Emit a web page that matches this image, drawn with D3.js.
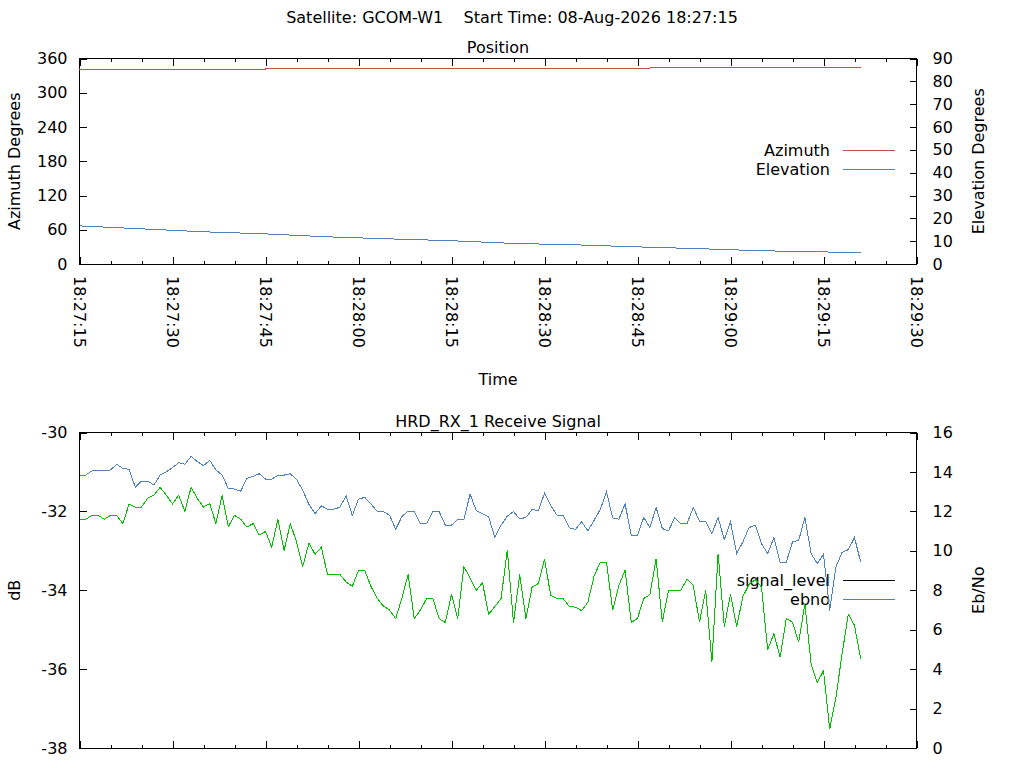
<!DOCTYPE html>
<html>
<head>
<meta charset="utf-8">
<script src="https://cdn.jsdelivr.net/npm/d3@7"></script>
<style>
  body { margin: 0; background: #fff; }
  svg { font-family: "DejaVu Sans", sans-serif; font-size: 16px; }
  .plotline { fill: none; stroke-width: 1; shape-rendering: crispEdges; }
</style>
</head>
<body>
<div id="chart"></div>
<script>
// pass start, every sample is one second after the previous one
var startTime = "2026-08-08T18:27:15Z";
var endTime = "2026-08-08T18:29:30Z";

// position samples (seconds after start)
var posSeconds = [0, 10, 20, 30, 40, 50, 60, 70, 80, 90, 100, 110, 120, 126];
var azimuth = [340.8, 341.1, 341.35, 341.6, 341.9, 342.2, 342.45, 342.7, 343.0, 343.3, 343.55, 343.8, 344.1, 344.25];
var elevation = [16.7, 15.4, 14.1, 13.2, 11.9, 11.0, 10.2, 9.0, 8.4, 7.5, 6.7, 5.8, 5.3, 4.9];

// receive signal, one value per second
var signalLevel = [
  -32.20, -32.20, -32.10, -32.10, -32.20, -32.10, -32.10, -32.31, -31.81, -31.89,
  -31.89, -31.67, -31.59, -31.39, -31.59, -31.81, -31.59, -32.00, -31.39, -31.67,
  -31.89, -31.80, -32.31, -31.59, -32.39, -32.10, -32.20, -32.40, -32.31, -32.60,
  -32.51, -32.91, -32.20, -32.99, -32.31, -32.77, -33.40, -32.81, -33.09, -32.91,
  -33.60, -33.60, -33.60, -33.79, -33.90, -33.50, -33.50, -33.90, -34.20, -34.40,
  -34.50, -34.72, -34.20, -33.60, -34.72, -34.50, -34.21, -34.21, -34.72, -34.82,
  -34.10, -34.72, -33.40, -33.69, -34.00, -33.81, -34.61, -34.41, -34.21, -32.98,
  -34.82, -33.60, -34.72, -33.92, -33.83, -33.20, -34.13, -34.21, -34.21, -34.41,
  -34.43, -34.52, -34.30, -33.64, -33.29, -33.29, -34.51, -33.88, -33.49, -34.82,
  -34.71, -34.21, -34.11, -33.20, -34.81, -34.00, -34.00, -34.00, -33.71, -33.88,
  -34.81, -34.00, -35.83, -33.07, -34.92, -34.10, -34.92, -34.16, -33.85, -33.73,
  -33.92, -35.51, -35.10, -35.70, -34.72, -34.81, -35.32, -34.34, -35.87, -36.34,
  -36.04, -37.52, -36.72, -35.61, -34.61, -34.89, -35.74
];
var ebno = [
  13.84, 13.84, 14.05, 14.05, 14.08, 14.10, 14.39, 14.18, 14.13, 13.23,
  13.54, 13.54, 13.33, 13.84, 14.01, 14.22, 14.47, 14.39, 14.79, 14.52,
  14.32, 14.59, 14.10, 13.84, 13.16, 13.13, 13.03, 13.67, 13.78, 13.91,
  13.64, 13.64, 13.82, 13.84, 13.91, 13.62, 13.08, 12.35, 11.89, 12.28,
  12.11, 12.11, 12.21, 12.79, 11.79, 12.62, 12.71, 12.38, 12.01, 11.99,
  11.81, 11.09, 11.74, 12.01, 11.99, 11.38, 11.38, 11.99, 11.99, 11.30,
  11.30, 11.60, 11.60, 12.88, 12.03, 11.89, 11.72, 10.67, 11.30, 11.76,
  11.99, 11.62, 11.69, 12.10, 12.03, 12.91, 12.30, 11.81, 11.81, 11.16,
  11.09, 11.47, 11.01, 11.55, 12.10, 12.99, 11.67, 11.60, 12.38, 10.79,
  10.79, 11.69, 11.18, 12.20, 11.13, 11.01, 11.69, 11.38, 11.38, 12.20,
  11.50, 11.50, 10.87, 11.69, 10.57, 11.47, 9.86, 10.45, 11.18, 11.30,
  10.36, 9.86, 10.67, 9.43, 9.43, 10.45, 10.53, 11.69, 9.86, 9.35,
  9.82, 6.97, 9.18, 9.92, 10.06, 10.67, 9.43
];

var azTicks = [0, 60, 120, 180, 240, 300, 360];
var elTicks = [0, 10, 20, 30, 40, 50, 60, 70, 80, 90];
var dbTicks = [-30, -32, -34, -36, -38];
var ebTicks = [0, 2, 4, 6, 8, 10, 12, 14, 16];

var colors = { azimuth: "#c0504d", elevation: "#4f81bd", signal: "#00c000", ebno: "#4f81bd" };

var W = 1024, H = 768;
var left = 79.5, right = 916.5;
var t0 = new Date(startTime);
function at(sec) { return new Date(t0.getTime() + sec * 1000); }
// plain hyphen for negatives, like the original plot
function num(d) { return String(d); }

var svg = d3.select('#chart').append('svg')
    .attr('width', W)
    .attr('height', H);

var x = d3.scaleUtc()
    .domain([t0, new Date(endTime)])
    .range([left, right]);

var majorTicks = d3.utcSecond.every(15).range(t0, at(136));
var minorTicks = d3.utcSecond.every(5).range(t0, at(136));
var fmt = d3.utcFormat("%H:%M:%S");

svg.append('text')
    .attr('x', 512).attr('y', 23)
    .attr('text-anchor', 'middle')
    .style('white-space', 'pre')
    .text("Satellite: GCOM-W1    Start Time: 08-Aug-2026 18:27:15");

// draws the frame, x ticks and both y axes of one panel
function panel(top, bottom, yL, yR, lTicks, rTicks, title, lLabel, rLabel) {
    var g = svg.append('g');
    var mid = (top + bottom) / 2;

    // x ticks on top and bottom border, pointing inward
    [[d3.axisBottom, bottom, -7, majorTicks], [d3.axisBottom, bottom, -3.5, minorTicks],
     [d3.axisTop, top, -7, majorTicks], [d3.axisTop, top, -3.5, minorTicks]].forEach(function (a) {
        g.append('g')
            .attr('transform', 'translate(0,' + a[1] + ')')
            .call(a[0](x).tickValues(a[3]).tickSize(a[2]).tickFormat(''))
            .call(function (s) { s.select('.domain').remove(); });
    });

    g.append('g')
        .attr('transform', 'translate(' + left + ',0)')
        .call(d3.axisLeft(yL).tickValues(lTicks).tickSize(-7).tickPadding(12).tickFormat(num))
        .call(function (s) { s.select('.domain').remove(); });

    g.append('g')
        .attr('transform', 'translate(' + right + ',0)')
        .call(d3.axisRight(yR).tickValues(rTicks).tickSize(-7).tickPadding(16).tickFormat(num))
        .call(function (s) { s.select('.domain').remove(); });

    g.selectAll('.tick text')
        .attr('font-family', '"DejaVu Sans", sans-serif')
        .attr('font-size', 16)
        .attr('fill', '#000');
    g.selectAll('.tick line').attr('stroke', '#000').attr('shape-rendering', 'crispEdges');

    g.append('rect')
        .attr('x', left).attr('y', top)
        .attr('width', right - left).attr('height', bottom - top)
        .attr('fill', 'none').attr('stroke', '#000')
        .attr('shape-rendering', 'crispEdges');

    g.append('text')
        .attr('x', (left + right) / 2).attr('y', top - 6)
        .attr('text-anchor', 'middle')
        .text(title);

    g.append('text')
        .attr('transform', 'translate(14,' + mid + ') rotate(-90)')
        .attr('text-anchor', 'middle').attr('dy', '0.35em')
        .text(lLabel);

    g.append('text')
        .attr('transform', 'translate(978,' + mid + ') rotate(-90)')
        .attr('text-anchor', 'middle').attr('dy', '0.35em')
        .text(rLabel);
    return g;
}

function legend(items, y0) {
    items.forEach(function (it, i) {
        var y = y0 + i * 19;
        svg.append('text')
            .attr('x', 830).attr('y', y).attr('dy', '0.35em')
            .attr('text-anchor', 'end')
            .text(it.name);
        svg.append('line')
            .attr('x1', 843).attr('x2', 895)
            .attr('y1', y + 0.5).attr('y2', y + 0.5)
            .attr('stroke', it.color)
            .attr('shape-rendering', 'crispEdges');
    });
}

// ---- Position panel
var yAz = d3.scaleLinear().domain([0, 360]).range([264, 58.5]);
var yEl = d3.scaleLinear().domain([0, 90]).range([264, 58.5]);
panel(58.5, 264, yAz, yEl, azTicks, elTicks, "Position", "Azimuth Degrees", "Elevation Degrees");

// rotated time labels under the position panel
svg.selectAll('.tlabel')
    .data(majorTicks)
    .enter().append('text')
    .attr('class', 'tlabel')
    .attr('transform', function (d) { return 'translate(' + x(d) + ',276) rotate(90)'; })
    .attr('dy', '0.35em')
    .text(fmt);

svg.append('text')
    .attr('x', (left + right) / 2).attr('y', 385)
    .attr('text-anchor', 'middle')
    .text("Time");

legend([{ name: "Azimuth", color: colors.azimuth }, { name: "Elevation", color: colors.elevation }], 150);

svg.append('path')
    .datum(posSeconds)
    .attr('class', 'plotline')
    .attr('stroke', colors.azimuth)
    .attr('d', d3.line()
        .x(function (d) { return x(at(d)); })
        .y(function (d, i) { return yAz(azimuth[i]); }));

svg.append('path')
    .datum(posSeconds)
    .attr('class', 'plotline')
    .attr('stroke', colors.elevation)
    .attr('d', d3.line()
        .x(function (d) { return x(at(d)); })
        .y(function (d, i) { return yEl(elevation[i]); }));

// ---- Receive signal panel
var yDb = d3.scaleLinear().domain([-38, -30]).range([748, 432.5]);
var yEb = d3.scaleLinear().domain([0, 16]).range([748, 432.5]);
panel(432.5, 748, yDb, yEb, dbTicks, ebTicks, "HRD_RX_1 Receive Signal", "dB", "Eb/No");

// legend sits under the curves here
legend([{ name: "signal_level", color: "#000" }, { name: "ebno", color: colors.ebno }], 580);

svg.append('path')
    .datum(signalLevel)
    .attr('class', 'plotline')
    .attr('stroke', colors.signal)
    .attr('d', d3.line()
        .x(function (d, i) { return x(at(i)); })
        .y(function (d) { return yDb(d); }));

svg.append('path')
    .datum(ebno)
    .attr('class', 'plotline')
    .attr('stroke', colors.ebno)
    .attr('d', d3.line()
        .x(function (d, i) { return x(at(i)); })
        .y(function (d) { return yEb(d); }));
</script>
</body>
</html>
